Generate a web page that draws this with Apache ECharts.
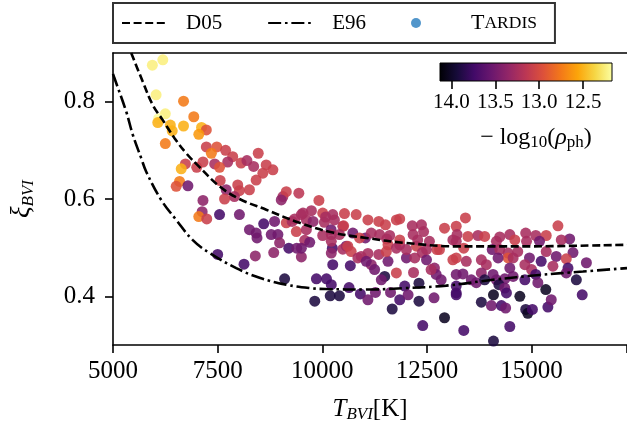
<!DOCTYPE html>
<html>
<head>
<meta charset="utf-8">
<script src="https://cdn.jsdelivr.net/npm/echarts@6/dist/echarts.min.js"></script>
<style>
  html, body { margin: 0; padding: 0; background: #fff; }
  #chart { width: 627px; height: 430px; }
</style>
</head>
<body>
<div id="chart"></div>
<script>
// Axis ticks
const xTicks = [5000, 7500, 10000, 12500, 15000];
const yTicks = [0.4, 0.6, 0.8];
const cbTicks = [14.0, 13.5, 13.0, 12.5];

// Dilution-factor fits
const d05T  = [5435, 5712, 5951, 6190, 6470, 6749, 7050, 7545, 8023, 8661, 9457, 10253, 11051, 12007, 13281, 14636, 17280];
const d05Xi = [0.900, 0.841, 0.793, 0.762, 0.725, 0.694, 0.667, 0.626, 0.600, 0.578, 0.551, 0.531, 0.520, 0.5095, 0.5026, 0.5026, 0.506];

const e96T  = [5000, 5036, 5316, 5473, 5674, 5794, 6152, 6511, 6907, 7306, 7944, 8501, 9140, 9696, 10095, 11051, 12007, 12963, 14077, 15193, 16228, 17280];
const e96Xi = [0.857, 0.848, 0.7795, 0.732, 0.684, 0.656, 0.598, 0.557, 0.5155, 0.489, 0.458, 0.438, 0.424, 0.417, 0.415, 0.414, 0.417, 0.422, 0.434, 0.444, 0.451, 0.458];

// TARDIS models: temperature, dilution factor, -log10(photospheric density)
const tardisT = [
  5940, 6190, 6030, 6685, 6250, 6090, 6070, 6370, 6415, 6685, 6930, 7115, 7230, 7050, 6250, 7230, 7480, 7350, 7690, 7860,
  8470, 6730, 6630, 7150, 7000, 7430, 7740, 8060, 8200, 8360, 8660, 8820, 8580, 7545, 8420, 7560, 7980, 8260, 8020, 6590,
  6510, 6790, 7705, 7900, 7665, 7150, 7130, 7050, 7240, 7545, 8020, 8260, 8420, 8440, 8600, 8860, 8780, 8940, 8980, 9060,
  9140, 9440, 9020, 9920, 9140, 9380, 9280, 9500, 9740, 10010, 10250, 10530, 10810, 11090, 10490, 10050, 10210, 9340, 9620, 9780,
  10080, 10290, 10510, 10215, 10730, 11030, 10010, 9580, 9700, 9200, 10240, 10570, 7500, 8130, 8400, 8840, 9390, 9500, 9100, 9540,
  11350, 11510, 11770, 11850, 12150, 12370, 12420, 12920, 13200, 9500, 10215, 10215, 10250, 10490, 10690, 10670, 10930, 11090, 11170, 11250,
  11350, 11540, 11570, 11570, 11770, 11850, 12010, 12210, 12250, 12180, 12390, 12490, 12680, 12720, 12800, 13120, 13200, 9860, 10100, 10215,
  10640, 9820, 10190, 10410, 10910, 11090, 11270, 11490, 11630, 11670, 11850, 11970, 12050, 12310, 12310, 12400, 12670, 12920, 13200, 9620,
  10410, 10890, 11170, 11370, 11610, 11850, 12170, 12280, 12560, 12740, 10610, 10850, 11050, 11530, 11770, 12010, 12490, 11410, 12600, 12840,
  13200, 13420, 13220, 13480, 13720, 13880, 14240, 14480, 14860, 15100, 15350, 15630, 15910, 15710, 15190, 14880, 14600, 14160, 13380, 13120,
  14060, 14240, 14440, 14440, 14670, 14560, 14950, 15350, 15590, 15990, 15830, 16310, 15230, 13200, 13440, 13800, 13920, 14200, 14480, 14840,
  15000, 15510, 15870, 15830, 13800, 13360, 13560, 14080, 14160, 14360, 14560, 14840, 15100, 15150, 16070, 13200, 13680, 13880, 14220, 14360,
  14400, 13200, 14090, 14720, 15340, 13800, 14040, 14280, 14380, 14860, 14910, 15020, 15390, 15470, 16210, 14480, 13380, 14090
];
const tardisXi = [
  0.875, 0.886, 0.814, 0.801, 0.775, 0.765, 0.757, 0.752, 0.740, 0.750, 0.769, 0.747, 0.742, 0.733, 0.714, 0.707, 0.707, 0.694, 0.700, 0.687,
  0.694, 0.672, 0.662, 0.676, 0.665, 0.672, 0.676, 0.674, 0.679, 0.667, 0.670, 0.660, 0.653, 0.665, 0.639, 0.638, 0.629, 0.619, 0.617, 0.636,
  0.626, 0.627, 0.619, 0.605, 0.600, 0.597, 0.574, 0.564, 0.559, 0.568, 0.568, 0.537, 0.530, 0.520, 0.549, 0.554, 0.527, 0.527, 0.510, 0.605,
  0.615, 0.612, 0.598, 0.597, 0.551, 0.533, 0.554, 0.568, 0.576, 0.571, 0.568, 0.570, 0.568, 0.557, 0.544, 0.552, 0.537, 0.559, 0.557, 0.554,
  0.563, 0.557, 0.545, 0.527, 0.530, 0.520, 0.525, 0.515, 0.511, 0.499, 0.499, 0.503, 0.486, 0.466, 0.483, 0.490, 0.499, 0.481, 0.436, 0.571,
  0.554, 0.547, 0.557, 0.559, 0.545, 0.547, 0.533, 0.540, 0.544, 0.499, 0.513, 0.489, 0.465, 0.497, 0.492, 0.463, 0.482, 0.488, 0.465, 0.455,
  0.486, 0.518, 0.506, 0.472, 0.448, 0.506, 0.479, 0.479, 0.503, 0.449, 0.490, 0.475, 0.458, 0.445, 0.496, 0.475, 0.513, 0.436, 0.436, 0.424,
  0.418, 0.390, 0.401, 0.401, 0.405, 0.393, 0.408, 0.441, 0.408, 0.374, 0.393, 0.421, 0.403, 0.427, 0.390, 0.340, 0.397, 0.356, 0.407, 0.537,
  0.527, 0.520, 0.530, 0.527, 0.525, 0.516, 0.527, 0.516, 0.513, 0.496, 0.503, 0.479, 0.472, 0.492, 0.499, 0.496, 0.496, 0.434, 0.455, 0.434,
  0.445, 0.561, 0.527, 0.523, 0.525, 0.523, 0.522, 0.527, 0.530, 0.525, 0.525, 0.545, 0.518, 0.516, 0.513, 0.513, 0.516, 0.513, 0.499, 0.516,
  0.496, 0.496, 0.489, 0.479, 0.492, 0.479, 0.479, 0.492, 0.482, 0.490, 0.477, 0.469, 0.472, 0.479, 0.472, 0.475, 0.465, 0.479, 0.458, 0.465,
  0.455, 0.462, 0.458, 0.448, 0.448, 0.446, 0.434, 0.445, 0.434, 0.436, 0.441, 0.434, 0.445, 0.428, 0.434, 0.421, 0.428, 0.434, 0.424, 0.417,
  0.407, 0.403, 0.403, 0.400, 0.414, 0.388, 0.381, 0.381, 0.376, 0.373, 0.365, 0.373, 0.378, 0.393, 0.403, 0.338, 0.330, 0.308
];
const tardisRho = [
  12.25, 12.25, 12.25, 12.75, 12.25, 12.18, 12.52, 12.52, 12.52, 12.52, 12.75, 12.52, 12.95, 12.62, 12.75, 13.08, 12.95, 12.75, 13.08, 13.08,
  13.08, 13.08, 12.52, 13.08, 13.08, 13.25, 13.25, 13.08, 13.25, 13.25, 13.08, 13.08, 13.08, 12.95, 13.08, 13.08, 13.08, 13.08, 13.08, 12.75,
  12.95, 13.52, 13.38, 13.25, 13.08, 13.38, 13.38, 12.75, 13.08, 13.72, 13.52, 13.52, 13.52, 13.52, 13.72, 13.52, 13.52, 13.52, 13.38, 13.25,
  13.08, 13.15, 13.38, 13.08, 13.08, 13.08, 13.25, 13.25, 13.25, 13.08, 13.25, 13.08, 13.08, 13.08, 13.25, 13.25, 13.52, 13.25, 13.25, 13.38,
  13.25, 13.25, 13.08, 13.25, 13.52, 13.52, 13.25, 13.25, 13.52, 13.72, 13.72, 13.52, 13.72, 13.72, 13.38, 13.38, 13.52, 13.38, 13.90, 13.25,
  13.08, 13.08, 13.08, 13.08, 13.25, 13.25, 13.25, 13.08, 13.08, 13.52, 13.25, 13.38, 13.72, 13.25, 13.08, 13.72, 13.25, 13.25, 13.38, 13.52,
  13.25, 13.25, 13.08, 13.52, 13.08, 13.25, 13.52, 13.25, 13.08, 13.25, 13.25, 13.52, 13.38, 13.52, 13.08, 13.08, 13.25, 13.72, 13.72, 13.72,
  13.72, 13.90, 13.90, 13.90, 13.72, 13.52, 13.52, 13.90, 13.52, 13.90, 13.72, 13.72, 13.52, 13.90, 13.90, 13.72, 13.52, 14.02, 13.72, 13.25,
  13.25, 13.08, 13.25, 13.25, 13.25, 13.08, 13.25, 13.25, 13.25, 13.08, 13.08, 13.25, 13.52, 13.08, 13.25, 13.25, 13.25, 13.52, 13.25, 13.52,
  13.52, 13.08, 13.25, 13.08, 13.25, 13.08, 13.25, 13.25, 13.25, 13.25, 13.08, 13.08, 13.52, 13.25, 13.52, 13.25, 13.08, 13.25, 13.08, 13.25,
  13.52, 13.25, 13.25, 12.95, 13.25, 13.25, 13.52, 13.25, 13.52, 13.52, 13.08, 13.52, 13.72, 13.08, 13.25, 13.25, 13.25, 13.52, 13.52, 13.25,
  13.25, 13.25, 13.72, 13.52, 13.38, 13.52, 13.52, 13.52, 13.52, 13.52, 13.52, 13.72, 13.72, 13.52, 13.90, 13.72, 13.52, 13.90, 13.90, 13.52,
  13.72, 13.72, 14.02, 14.02, 14.02, 13.90, 13.52, 13.72, 13.52, 13.90, 14.02, 13.72, 13.72, 13.52, 13.72, 13.72, 13.72, 13.90
];

// Colour scale range of the colour bar
const rhoLeft = 14.13;   // dark end
const rhoRight = 12.17;  // bright end

// inferno colour map, dark -> bright
const inferno = ['#000004', '#160b39', '#420a68', '#6a176e', '#932667', '#bc3754',
                 '#dd513a', '#f37819', '#fca50a', '#f6d746', '#fcffa4'];

const SERIF = '"Liberation Serif", "DejaVu Serif", serif';

const chart = echarts.init(document.getElementById('chart'), null, { renderer: 'canvas' });

const tardisData = tardisT.map((t, i) => [t, tardisXi[i], tardisRho[i]]);
const d05Data = d05T.map((t, i) => [t, d05Xi[i]]);
const e96Data = e96T.map((t, i) => [t, e96Xi[i]]);

const cbGradient = new echarts.graphic.LinearGradient(0, 0, 1, 0,
  inferno.map((c, i) => ({ offset: i / (inferno.length - 1), color: c })));

const axisLine = { show: true, lineStyle: { color: '#000', width: 1.6 } };
const tickStyle = { color: '#000', width: 1.6 };

chart.setOption({
  animation: false,
  backgroundColor: '#fff',
  textStyle: { fontFamily: SERIF, color: '#000' },
  grid: [
    { left: 113, top: 53, right: 0, bottom: 85, containLabel: false },
    { left: 440, top: 63, width: 172, height: 18, show: true,
      borderColor: '#000', borderWidth: 1, backgroundColor: cbGradient }
  ],
  legend: {
    left: 113, top: 3,
    itemWidth: 44, itemHeight: 10, itemGap: 45,
    padding: [9, 18, 9, 8],
    borderColor: '#333', borderWidth: 2, borderRadius: 0,
    textStyle: {
      fontFamily: SERIF, fontSize: 21, color: '#000', padding: [0, 0, 0, 15],
      rich: {
        gap: { width: 13 },
        big: { fontFamily: SERIF, fontSize: 22, color: '#000' },
        sc: { fontFamily: SERIF, fontSize: 17.5, color: '#000' }
      }
    },
    formatter: name => name === 'TARDIS' ? '{gap|}{big|T}{sc|ARDIS}' : name,
    data: [
      { name: 'D05', itemStyle: { opacity: 0 } },
      { name: 'E96', itemStyle: { opacity: 0 } },
      { name: 'TARDIS', icon: 'circle', itemStyle: { color: '#3a87c4' } }
    ]
  },
  visualMap: {
    type: 'continuous', show: false, seriesIndex: 2, dimension: 2,
    min: rhoRight, max: rhoLeft,
    inRange: { color: inferno.slice().reverse() }
  },
  xAxis: [
    {
      gridIndex: 0, type: 'value', position: 'bottom',
      min: 5000, max: 17280, interval: 2500,
      axisLine: Object.assign({ onZero: false }, axisLine),
      axisTick: { show: true, length: 8, lineStyle: tickStyle },
      axisLabel: { fontFamily: SERIF, fontSize: 25, color: '#000', margin: 14,
                   customValues: xTicks, formatter: v => String(v) },
      splitLine: { show: false },
      name: '{it|T}{sub|BVI}[K]', nameLocation: 'middle', nameGap: 50,
      nameTextStyle: {
        fontFamily: SERIF, fontSize: 25, color: '#000',
        rich: {
          it: { fontFamily: SERIF, fontSize: 25, fontStyle: 'italic', color: '#000', lineHeight: 28 },
          sub: { fontFamily: SERIF, fontSize: 17, fontStyle: 'italic', color: '#000', lineHeight: 12, verticalAlign: 'bottom' }
        }
      }
    },
    {
      gridIndex: 0, type: 'value', position: 'top',
      min: 5000, max: 17280,
      axisLine: Object.assign({ onZero: false }, axisLine),
      axisTick: { show: false }, axisLabel: { show: false }, splitLine: { show: false }
    },
    {
      gridIndex: 1, type: 'value', inverse: true,
      min: rhoRight, max: rhoLeft,
      axisLine: { show: false },
      axisTick: { show: true, length: 8, lineStyle: tickStyle, customValues: cbTicks },
      axisLabel: { fontFamily: SERIF, fontSize: 21, color: '#000', margin: 11,
                   customValues: cbTicks, formatter: v => v.toFixed(1) },
      splitLine: { show: false },
      name: '− log{sub|10}({rho|ρ}{sub|ph})', nameLocation: 'middle', nameGap: 44,
      nameTextStyle: {
        fontFamily: SERIF, fontSize: 24, color: '#000', padding: [0, 0, 0, 20],
        rich: {
          rho: { fontFamily: SERIF, fontSize: 24, fontStyle: 'italic', color: '#000', lineHeight: 26 },
          sub: { fontFamily: SERIF, fontSize: 17, color: '#000', lineHeight: 11, verticalAlign: 'bottom' }
        }
      }
    }
  ],
  yAxis: [
    {
      gridIndex: 0, type: 'value', min: 0.3, max: 0.9,
      axisLine: Object.assign({ onZero: false }, axisLine),
      axisTick: { show: true, length: 8, lineStyle: tickStyle, customValues: yTicks },
      axisLabel: { fontFamily: SERIF, fontSize: 25, color: '#000', margin: 18,
                   customValues: yTicks, formatter: v => v.toFixed(1) },
      splitLine: { show: false },
      name: '{it|ξ}{sub|BVI}', nameLocation: 'middle', nameGap: 76, nameRotate: 90,
      nameTextStyle: {
        fontFamily: SERIF, fontSize: 25, color: '#000',
        rich: {
          it: { fontFamily: SERIF, fontSize: 27, fontStyle: 'italic', color: '#000', lineHeight: 30 },
          sub: { fontFamily: SERIF, fontSize: 17, fontStyle: 'italic', color: '#000', lineHeight: 12, verticalAlign: 'bottom' }
        }
      }
    },
    { gridIndex: 1, type: 'value', min: 0, max: 1, show: false }
  ],
  series: [
    {
      name: 'D05', type: 'line', xAxisIndex: 0, yAxisIndex: 0,
      data: d05Data, smooth: 0.4, symbol: 'none', showSymbol: false, z: 5, clip: true,
      lineStyle: { color: '#000', width: 2.6, type: [8, 3.6] },
      itemStyle: { color: '#000' }
    },
    {
      name: 'E96', type: 'line', xAxisIndex: 0, yAxisIndex: 0,
      data: e96Data, smooth: 0.4, symbol: 'none', showSymbol: false, z: 5, clip: true,
      lineStyle: { color: '#000', width: 2.6, type: [13, 3.8, 2.6, 3.8] },
      itemStyle: { color: '#000' }
    },
    {
      name: 'TARDIS', type: 'scatter', xAxisIndex: 0, yAxisIndex: 0,
      data: tardisData, symbolSize: 11, z: 3,
      itemStyle: { opacity: 0.88, color: '#3a87c4' }
    }
  ]
});
</script>
</body>
</html>
